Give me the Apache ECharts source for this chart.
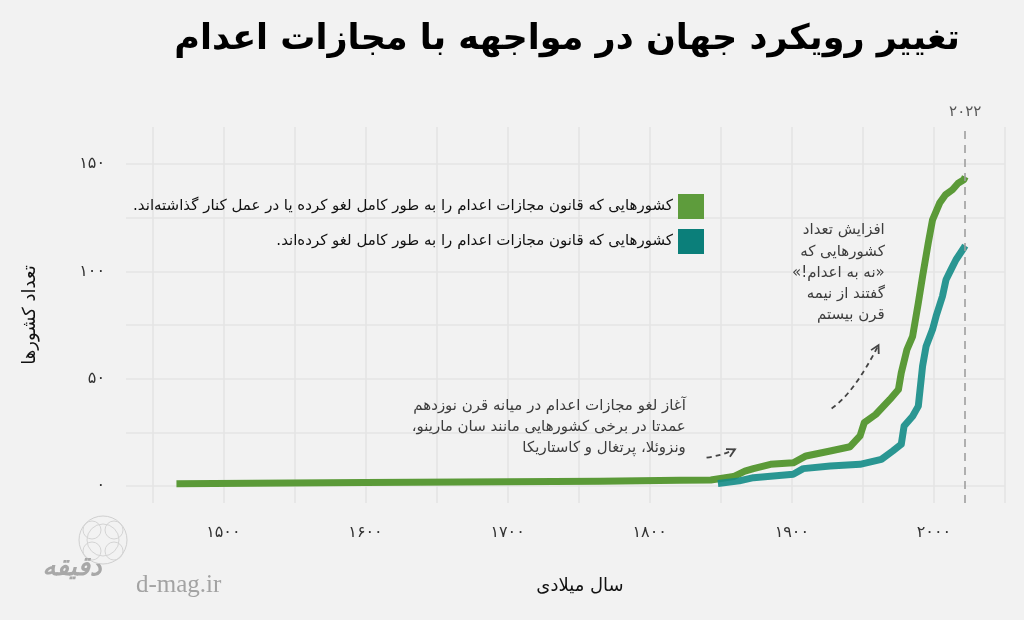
<!DOCTYPE html>
<html><head><meta charset="utf-8">
<script src="https://cdn.jsdelivr.net/npm/echarts@6/dist/echarts.min.js"></script>
<style>html,body{margin:0;padding:0;background:#f2f2f2}#c{width:1024px;height:620px}</style>
</head><body><div id="c" dir="rtl"></div>
<script>
// ---------- data ----------
const seriesNames = [
  'کشورهایی که قانون مجازات اعدام را به طور کامل لغو کرده یا در عمل کنار گذاشته‌اند.',
  'کشورهایی که قانون مجازات اعدام را به طور کامل لغو کرده‌اند.'
];
const greenYears  = [1467, 1600, 1700, 1765, 1821, 1843, 1859, 1867, 1873, 1885, 1901, 1910, 1927, 1941, 1948, 1951, 1959, 1969, 1975, 1977, 1981, 1985, 1989, 1992, 1996, 1999, 2004, 2008, 2013, 2017, 2021, 2022];
const greenValues = [1.2, 1.7, 2.1, 2.3, 2.8, 2.9, 4.5, 7.0, 8.2, 10.2, 10.9, 14.1, 16.4, 18.4, 23.4, 29.6, 33.4, 40.4, 45.0, 52.8, 63.6, 69.8, 85.3, 97.7, 113.2, 124, 131.8, 135.6, 138, 141, 142.6, 144];
const tealYears   = [1848, 1863, 1873, 1901, 1908, 1927, 1948, 1963, 1971, 1977, 1979, 1985, 1989, 1992, 1994.5, 1999, 2001.5, 2006, 2008.5, 2012, 2015.5, 2021, 2022];
const tealValues  = [1.3, 2.5, 4.0, 5.6, 8.2, 9.4, 10.2, 12.5, 16.4, 19.5, 28.0, 32.6, 37.3, 55.9, 65.2, 72.9, 79.1, 88.4, 96.1, 100.8, 105.4, 110.9, 112];
const xTicks = [1500, 1600, 1700, 1800, 1900, 2000];
const yTicks = [0, 50, 100, 150];
const xGrid = [1450, 1500, 1550, 1600, 1650, 1700, 1750, 1800, 1850, 1900, 1950, 2000, 2050];
const yGrid = [0, 25, 50, 75, 100, 125, 150];
const markYear = 2022;
const titleText = 'تغییر رویکرد جهان در مواجهه با مجازات اعدام';
const xTitle = 'سال میلادی';
const yTitle = 'تعداد کشورها';
const note1 = 'افزایش تعداد\nکشورهایی که\n«نه به اعدام!»\nگفتند از نیمه\nقرن بیستم';
const note2 = 'آغاز لغو مجازات اعدام در میانه قرن نوزدهم\nعمدتا در برخی کشورهایی مانند سان مارینو،\nونزوئلا، پرتغال و کاستاریکا';

// ---------- chart ----------
const FONT = 'DejaVu Sans';
const fa = n => String(n).replace(/\d/g, d => '۰۱۲۳۴۵۶۷۸۹'[+d]);
const zip = (a, b) => a.map((v, i) => [v, b[i]]);
const GREEN = '#5b9a38', TEAL = 'rgba(20,140,135,0.9)';

const chart = echarts.init(document.getElementById('c'), null, {renderer: 'canvas'});
chart.setOption({
  backgroundColor: '#f2f2f2',
  animation: false,
  grid: {left: 126, right: 19, top: 127, bottom: 117},
  xAxis: {
    type: 'value', min: 1431.5, max: 2050,
    axisLine: {show: false}, axisTick: {show: false}, splitLine: {show: false},
    axisLabel: {customValues: xTicks, formatter: v => fa(v), margin: 22, fontSize: 16, color: '#333', fontFamily: FONT}
  },
  yAxis: {
    type: 'value', min: -7.8, max: 167.2,
    axisLine: {show: false}, axisTick: {show: false}, splitLine: {show: false},
    axisLabel: {customValues: yTicks, formatter: v => fa(v), margin: 21, fontSize: 16, color: '#333', fontFamily: FONT}
  },
  legend: {
    data: [
      {name: seriesNames[0], itemStyle: {color: '#5e9c3c'}},
      {name: seriesNames[1], itemStyle: {color: '#0b7f7a'}}
    ],
    icon: 'rect', orient: 'vertical', align: 'right',
    right: 315, top: 189, itemWidth: 26, itemHeight: 25, itemGap: 10,
    textStyle: {fontSize: 15, color: '#111', fontFamily: FONT},
    selectedMode: false
  },
  series: [
    {
      type: 'line', name: 'grid', data: [], silent: true, z: 1,
      markLine: {
        silent: true, z: 1, symbol: ['none', 'none'], label: {show: false},
        lineStyle: {color: '#e4e4e4', width: 1.6, type: 'solid'},
        data: [...xGrid.map(v => ({xAxis: v})), ...yGrid.map(v => ({yAxis: v}))]
      }
    },
    {
      type: 'line', name: seriesNames[0], data: zip(greenYears, greenValues),
      showSymbol: false, z: 3,
      lineStyle: {color: GREEN, width: 7, join: 'round'}, itemStyle: {color: GREEN},
      markLine: {
        silent: true, z: 6, symbol: ['none', 'none'],
        lineStyle: {color: '#9e9e9e', width: 1.6, type: [8, 6]},
        label: {show: true, position: 'end', formatter: fa(markYear), color: '#555', fontSize: 15, fontFamily: FONT, distance: 7},
        data: [{xAxis: markYear}]
      }
    },
    {
      type: 'line', name: seriesNames[1], data: zip(tealYears, tealValues),
      showSymbol: false, z: 4,
      lineStyle: {color: TEAL, width: 7, join: 'round'}, itemStyle: {color: TEAL}
    }
  ]
});

// ---------- annotations (anchored in data space) ----------
const P = (x, y) => chart.convertToPixel({gridIndex: 0}, [x, y]);
function arrow(a, c, b) {
  const dx = b[0] - c[0], dy = b[1] - c[1], L = Math.hypot(dx, dy);
  const ux = dx / L, uy = dy / L, s = 9, k = Math.cos(0.5), q = Math.sin(0.5);
  const h1 = [b[0] - s * (ux * k - uy * q), b[1] - s * (uy * k + ux * q)];
  const h2 = [b[0] - s * (ux * k + uy * q), b[1] - s * (uy * k - ux * q)];
  return [
    {type: 'bezierCurve', shape: {x1: a[0], y1: a[1], cpx1: c[0], cpy1: c[1], x2: b[0], y2: b[1]},
     style: {stroke: '#444', lineWidth: 1.8, lineDash: [5, 4], fill: null}, z: 20},
    {type: 'polyline', shape: {points: [h1, b, h2]}, style: {stroke: '#444', lineWidth: 1.8, fill: null}, z: 20}
  ];
}
const n1 = P(1965.4, 124);
const n2 = P(1825.4, 42);
const a1s = P(1928, 36.2), a1c = P(1943.3, 43), a1e = P(1961, 65.7);
const a2s = P(1840, 13.3), a2c = P(1852, 14.5), a2e = P(1860, 17.2);

const txt = (x, y, text, st, extra) => Object.assign({type: 'text', x, y, style: Object.assign({text, fontFamily: FONT}, st), z: 30}, extra || {});

chart.setOption({
  graphic: [
    txt(960, 22, titleText, {fontSize: 35, fontWeight: 'bold', fill: '#000', align: 'right', verticalAlign: 'top'}),
    txt(n1[0], n1[1], note1, {fontSize: 15, fill: '#3d3d3d', align: 'right', verticalAlign: 'top', lineHeight: 21.2}),
    txt(n2[0], n2[1], note2, {fontSize: 15, fill: '#3d3d3d', align: 'right', verticalAlign: 'top', lineHeight: 21}),
    ...arrow(a1s, a1c, a1e),
    ...arrow(a2s, a2c, a2e),
    txt(580, 586, xTitle, {fontSize: 18, fill: '#111', align: 'center', verticalAlign: 'middle'}),
    txt(30, 315, yTitle, {fontSize: 18, fill: '#111', align: 'center', verticalAlign: 'middle'}, {rotation: Math.PI / 2}),
    // watermark
    {type: 'group', z: 5, children: [
      {type: 'circle', shape: {cx: 103, cy: 540, r: 24}, style: {stroke: '#d0d0d0', lineWidth: 1, fill: null}},
      {type: 'circle', shape: {cx: 103, cy: 540, r: 16}, style: {stroke: '#d4d4d4', lineWidth: 1, fill: null}},
      {type: 'circle', shape: {cx: 92, cy: 530, r: 9}, style: {stroke: '#d4d4d4', lineWidth: 1, fill: null}},
      {type: 'circle', shape: {cx: 114, cy: 530, r: 9}, style: {stroke: '#d4d4d4', lineWidth: 1, fill: null}},
      {type: 'circle', shape: {cx: 92, cy: 551, r: 9}, style: {stroke: '#d4d4d4', lineWidth: 1, fill: null}},
      {type: 'circle', shape: {cx: 114, cy: 551, r: 9}, style: {stroke: '#d4d4d4', lineWidth: 1, fill: null}}
    ]},
    txt(72, 568, 'دقیقه', {fontSize: 26, fontWeight: 'bold', fontStyle: 'italic', fill: '#a8a8a8', align: 'center', verticalAlign: 'middle'}),
    txt(136, 585, 'd-mag.ir', {fontSize: 25, fontFamily: 'Liberation Serif', fill: '#a3a3a3', align: 'left', verticalAlign: 'middle'})
  ]
});
</script></body></html>
